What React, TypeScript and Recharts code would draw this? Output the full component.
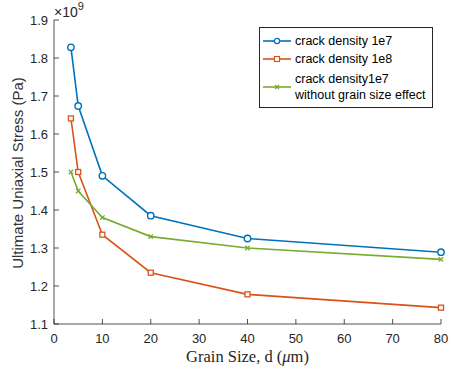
import React from 'react';
import { LineChart, Line, XAxis, YAxis } from 'recharts';

// Grain size d (µm) and ultimate uniaxial stress (Pa) for each case
const grainSizes = [3.5, 5, 10, 20, 40, 80];
const density1e7 = [1.828e9, 1.674e9, 1.49e9, 1.385e9, 1.325e9, 1.289e9];
const density1e8 = [1.641e9, 1.5e9, 1.335e9, 1.235e9, 1.178e9, 1.143e9];
const density1e7NoGrain = [1.5e9, 1.45e9, 1.38e9, 1.33e9, 1.3e9, 1.27e9];

const xTicks = [0, 10, 20, 30, 40, 50, 60, 70, 80];
const yTicks = [1.1e9, 1.2e9, 1.3e9, 1.4e9, 1.5e9, 1.6e9, 1.7e9, 1.8e9, 1.9e9];

const seriesNames = ['crack density 1e7', 'crack density 1e8', 'crack density1e7'];

const data = grainSizes.map((d, i) => ({
  d,
  a: density1e7[i],
  b: density1e8[i],
  c: density1e7NoGrain[i],
}));

const BLUE = '#0072BD';
const ORANGE = '#D95319';
const GREEN = '#77AC30';
const AXIS = '#262626';
const SANS = '"Liberation Sans", Arial, Helvetica, sans-serif';
const SERIF = '"Liberation Serif", "Times New Roman", serif';
const TICK = 5;

const BottomTick = (p: any) => (
  <g>
    <line x1={p.x} y1={p.y} x2={p.x} y2={p.y - TICK} stroke={AXIS} strokeWidth={0.8} />
    <text x={p.x} y={p.y + 19} textAnchor="middle" fontFamily={SANS} fontSize={13} fill={AXIS}>
      {p.payload.value}
    </text>
  </g>
);
const TopTick = (p: any) => (
  <line x1={p.x} y1={p.y} x2={p.x} y2={p.y + TICK} stroke={AXIS} strokeWidth={0.8} />
);
const LeftTick = (p: any) => (
  <g>
    <line x1={p.x} y1={p.y} x2={p.x + TICK} y2={p.y} stroke={AXIS} strokeWidth={0.8} />
    <text x={p.x - 6} y={p.y + 4.5} textAnchor="end" fontFamily={SANS} fontSize={13} fill={AXIS}>
      {(p.payload.value / 1e9).toFixed(1)}
    </text>
  </g>
);
const RightTick = (p: any) => (
  <line x1={p.x} y1={p.y} x2={p.x - TICK} y2={p.y} stroke={AXIS} strokeWidth={0.8} />
);

const CircleDot = (p: any) => (
  <circle key={p.index} cx={p.cx} cy={p.cy} r={3.2} fill="white" stroke={BLUE} strokeWidth={1.4} />
);
const SquareDot = (p: any) => (
  <rect key={p.index} x={p.cx - 2.5} y={p.cy - 2.5} width={5} height={5} fill="white" stroke={ORANGE} strokeWidth={1.3} />
);
const CrossDot = (p: any) => (
  <g key={p.index} stroke={GREEN} strokeWidth={1.3}>
    <line x1={p.cx - 2.2} y1={p.cy - 2.2} x2={p.cx + 2.2} y2={p.cy + 2.2} />
    <line x1={p.cx - 2.2} y1={p.cy + 2.2} x2={p.cx + 2.2} y2={p.cy - 2.2} />
  </g>
);

const LegendSample = ({ color, kind }: { color: string; kind: string }) => (
  <svg width={28} height={10} style={{ display: 'block', flex: 'none' }}>
    <line x1={0} y1={5} x2={28} y2={5} stroke={color} strokeWidth={1.6} />
    {kind === 'circle' && <circle cx={14} cy={5} r={2.6} fill="white" stroke={color} strokeWidth={1.3} />}
    {kind === 'square' && <rect x={11.5} y={2.5} width={5} height={5} fill="white" stroke={color} strokeWidth={1.2} />}
    {kind === 'cross' && (
      <g stroke={color} strokeWidth={1.2}>
        <line x1={12} y1={3} x2={16} y2={7} />
        <line x1={12} y1={7} x2={16} y2={3} />
      </g>
    )}
  </svg>
);

const LegendBox = () => (
  <div
    style={{
      position: 'absolute',
      left: 259,
      top: 27,
      width: 174,
      height: 81,
      border: `1px solid ${AXIS}`,
      background: 'white',
      fontFamily: SANS,
      fontSize: 12.5,
      color: '#000',
      boxSizing: 'border-box',
      paddingTop: 4,
      whiteSpace: 'nowrap',
    }}
  >
    <div style={{ display: 'flex', alignItems: 'center', height: 18, paddingLeft: 3 }}>
      <LegendSample color={BLUE} kind="circle" />
      <span style={{ marginLeft: 4 }}>{seriesNames[0]}</span>
    </div>
    <div style={{ display: 'flex', alignItems: 'center', height: 18, paddingLeft: 3 }}>
      <LegendSample color={ORANGE} kind="square" />
      <span style={{ marginLeft: 4 }}>{seriesNames[1]}</span>
    </div>
    <div style={{ display: 'flex', alignItems: 'center', height: 38, paddingLeft: 3 }}>
      <LegendSample color={GREEN} kind="cross" />
      <span style={{ marginLeft: 4, lineHeight: '16px' }}>
        {seriesNames[2]}
        <br />
        without grain size effect
      </span>
    </div>
  </div>
);

export default function App() {
  return (
    <div style={{ position: 'absolute', left: 0, top: 0, width: 450, height: 373, background: 'white' }}>
      <LineChart width={450} height={373} data={data} margin={{ top: 20, right: 9, bottom: 0, left: 0 }}>
        <XAxis
          dataKey="d"
          type="number"
          domain={[0, 80]}
          ticks={xTicks}
          height={49}
          tick={<BottomTick />}
          tickLine={false}
          tickSize={0}
          tickMargin={0}
          axisLine={{ stroke: AXIS, strokeWidth: 0.8 }}
          interval={0}
        />
        <XAxis
          xAxisId="top"
          dataKey="d"
          type="number"
          orientation="top"
          domain={[0, 80]}
          ticks={xTicks}
          height={0}
          tick={<TopTick />}
          tickLine={false}
          tickSize={0}
          tickMargin={0}
          axisLine={{ stroke: AXIS, strokeWidth: 0.8 }}
          interval={0}
        />
        <YAxis
          type="number"
          domain={[1.1e9, 1.9e9]}
          ticks={yTicks}
          width={54}
          tick={<LeftTick />}
          tickLine={false}
          tickSize={0}
          tickMargin={0}
          axisLine={{ stroke: AXIS, strokeWidth: 0.8 }}
          interval={0}
        />
        <YAxis
          yAxisId="right"
          orientation="right"
          type="number"
          domain={[1.1e9, 1.9e9]}
          ticks={yTicks}
          width={0}
          tick={<RightTick />}
          tickLine={false}
          tickSize={0}
          tickMargin={0}
          axisLine={{ stroke: AXIS, strokeWidth: 0.8 }}
          interval={0}
        />
        <Line dataKey="a" stroke={BLUE} strokeWidth={1.6} dot={<CircleDot />} isAnimationActive={false} />
        <Line dataKey="b" stroke={ORANGE} strokeWidth={1.6} dot={<SquareDot />} isAnimationActive={false} />
        <Line dataKey="c" stroke={GREEN} strokeWidth={1.6} dot={<CrossDot />} isAnimationActive={false} />
        <text x={54} y={17} fontFamily={SANS} fontSize={14} fill={AXIS}>
          ×10
          <tspan dy={-7} fontSize={11}>9</tspan>
        </text>
        <text
          x={18}
          y={173}
          dy={5}
          transform="rotate(-90 18 173)"
          textAnchor="middle"
          fontFamily={SANS}
          fontSize={15}
          fill="#333"
        >
          Ultimate Uniaxial Stress (Pa)
        </text>
        <text x={247.5} y={362} textAnchor="middle" fontFamily={SERIF} fontSize={16.5} fill={AXIS}>
          Grain Size, d (<tspan fontStyle="italic">μ</tspan>m)
        </text>
      </LineChart>
      <LegendBox />
    </div>
  );
}
